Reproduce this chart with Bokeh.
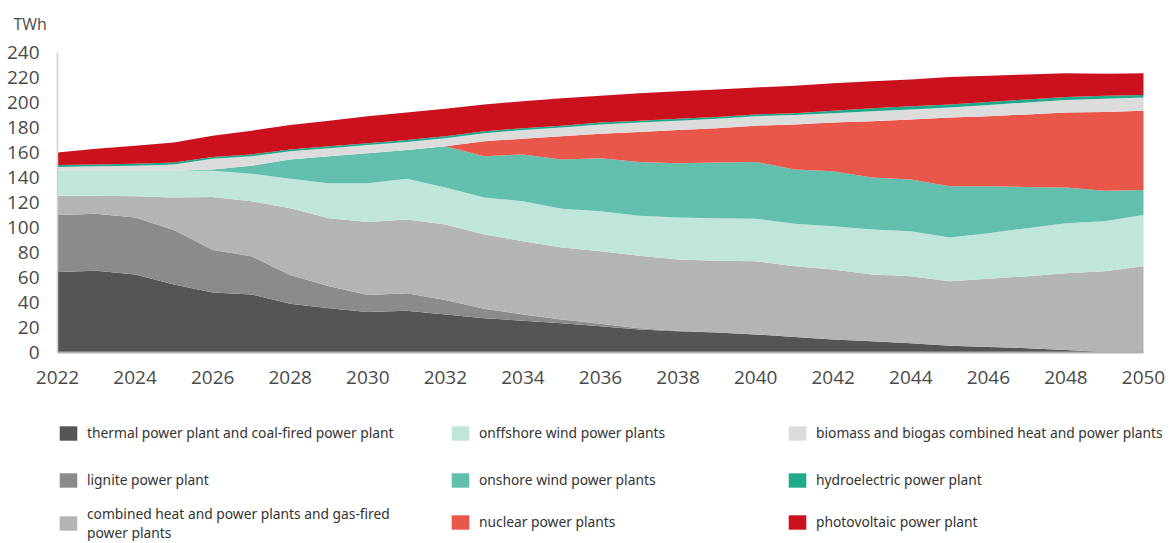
from bokeh.plotting import figure
from bokeh.models import Legend, LegendItem, FixedTicker, Range1d, ColumnDataSource
from bokeh.embed import file_html
from bokeh.resources import INLINE

years = list(range(2022, 2051))

thermal = [64.5, 65.5, 62.5, 54.5, 48, 46.5, 39, 35.5, 32.5, 33.5, 30.5, 27.5, 25.5, 23.5, 21,
           18.5, 17, 16, 14.5, 12.5, 10.5, 9, 7.5, 5.5, 4.5, 3.5, 2, 0.5, 0]
lignite = [45.5, 45.5, 45.5, 43.5, 34, 30.5, 23, 17.5, 13.5, 14, 11.5, 7.5, 5, 3, 2,
           1, 0.5, 0, 0, 0, 0, 0, 0, 0, 0, 0, 0, 0, 0]
chp_gas = [15.5, 14.5, 17, 26, 42.5, 44, 53.5, 54.5, 58.5, 59, 60.5, 59.5, 58.5, 57.5, 58,
           58, 57, 57.5, 58.5, 56.5, 56, 53.5, 53.5, 51.5, 54.5, 57.5, 61.5, 64.5, 69]
offshore = [20, 20, 20.5, 21.5, 21, 22, 23.5, 28, 31, 32.5, 29.5, 29.5, 32, 31, 32,
            32, 33.5, 34, 34, 34, 34.5, 36, 36, 35, 36.5, 38.5, 40, 40, 41]
onshore = [0, 0, 0, 0, 1, 6.5, 15.5, 21.5, 24, 23, 33, 33, 37.5, 39.5, 42.5,
           43, 43.5, 44.5, 45.5, 43.5, 44, 41.5, 41.5, 41, 37.5, 33, 28.5, 24.5, 20]
nuclear = [0, 0, 0, 0, 0, 0, 0, 0, 0, 0, 0, 12, 12.5, 18.5, 19.5,
           24, 26.5, 27.5, 29, 36, 39, 45, 48, 55, 56, 58, 60, 63, 63.5]
biomass = [3, 3.5, 4, 5, 8.5, 7.5, 6.5, 6.5, 6.5, 6.5, 6.5, 6.5, 7, 7, 7.5,
           7.5, 7.5, 7.5, 7.5, 7.5, 7.5, 8, 8, 8, 9, 9.5, 10, 10.5, 10.5]
hydro = [1.5, 1.5, 1.5, 1.5, 1.5, 1.5, 1.5, 1.5, 1.5, 1.5, 1.5, 1.5, 1.5, 1.5, 1.5,
         1.5, 1.5, 1.5, 1.5, 1.5, 2, 2.5, 2.5, 2.5, 2.5, 2.5, 2.5, 2.5, 2]
pv = [10, 12.5, 14.5, 16, 17, 19, 19.5, 20.5, 21.5, 22, 22, 21.5, 21.5, 22, 21.5,
      22, 22, 22, 21.5, 22, 22, 21.5, 21.5, 22, 21, 20, 19, 17.5, 17.5]

series_keys = ["thermal", "lignite", "chp_gas", "offshore", "onshore",
               "nuclear", "biomass", "hydro", "pv"]
labels = [
    "thermal power plant and coal-fired power plant",
    "lignite power plant",
    "combined heat and power plants and gas-fired\npower plants",
    "onffshore wind power plants",
    "onshore wind power plants",
    "nuclear power plants",
    "biomass and biogas combined heat and power plants",
    "hydroelectric power plant",
    "photovoltaic power plant",
]
colors = ["#555556", "#8b8b8c", "#b4b3b5", "#c0e5db", "#62bfad",
          "#e9564a", "#dcdcdd", "#20a98a", "#cc111e"]
tick_years = list(range(2022, 2051, 2))
tick_values = list(range(0, 241, 20))
unit_label = "TWh"

source = ColumnDataSource(dict(
    year=years, thermal=thermal, lignite=lignite, chp_gas=chp_gas,
    offshore=offshore, onshore=onshore, nuclear=nuclear, biomass=biomass,
    hydro=hydro, pv=pv))

FONT = "Open Sans"
W, H = 1166, 541
AX_LEFT, AX_TOP = 57, 52       # pixel position of the 2022 / 240 corner
TOP = 34                       # title band
PX_PER_YEAR = (1143 - 57) / (years[-1] - years[0])
PX_PER_TWH = 300 / 240

# the frame spans the whole canvas below the title; axes are pinned in data space
x_start = years[0] - AX_LEFT / PX_PER_YEAR
x_end = years[0] + (W - AX_LEFT) / PX_PER_YEAR
y_end = 240 + (AX_TOP - TOP) / PX_PER_TWH
y_start = 240 - (H - AX_TOP) / PX_PER_TWH

p = figure(width=W, height=H, output_backend="svg", toolbar_location=None,
           x_range=Range1d(x_start, x_end), y_range=Range1d(y_start, y_end),
           min_border_left=0, min_border_right=0, min_border_top=TOP,
           min_border_bottom=0, title=unit_label)
p.outline_line_color = None
p.xgrid.visible = False
p.ygrid.visible = False
p.title.align = "left"
p.title.offset = 13
p.title.standoff = 0
p.title.text_font = FONT
p.title.text_font_size = "16px"
p.title.text_font_style = "normal"
p.title.text_color = "#4a4a4a"

rends = p.varea_stack(stackers=series_keys, x="year", color=colors, source=source)

xa, ya = p.xaxis[0], p.yaxis[0]
for ax in (xa, ya):
    ax.major_tick_line_color = None
    ax.minor_tick_line_color = None
    ax.major_label_text_font = FONT
    ax.major_label_text_font_size = "19px"
    ax.major_label_text_color = "#4a4a4a"
xa.ticker = FixedTicker(ticks=tick_years)
ya.ticker = FixedTicker(ticks=tick_values)
xa.fixed_location = 0
ya.fixed_location = years[0]
xa.bounds = (years[0], years[-1])
ya.bounds = (0, 240)
xa.axis_line_color = "#b0b0b0"
xa.axis_line_width = 2
ya.axis_line_color = "#d0d0d0"
ya.axis_line_width = 1.5
xa.major_label_standoff = 12
ya.major_label_standoff = 12

col_x = [57, 449, 786]
row_top = [424, 471, 513]   # swatch tops in page pixels
for i, lab in enumerate(labels):
    col, row = divmod(i, 3)
    two = "\n" in lab
    h = 29 if two else 18
    leg = Legend(items=[LegendItem(label=lab, renderers=[rends[i]])],
                 location=(col_x[col], H - row_top[row] - h),
                 orientation="vertical", glyph_width=22, glyph_height=18,
                 label_height=18, label_standoff=8, spacing=0, padding=0, margin=0,
                 border_line_color=None, background_fill_alpha=0,
                 label_text_font="Noto Sans", label_text_font_size="13.8px",
                 label_text_color="#333333",
                 label_text_line_height=0.78 if two else 1.0)
    p.add_layout(leg, "center")

open("out.html", "w").write(file_html(p, INLINE))
